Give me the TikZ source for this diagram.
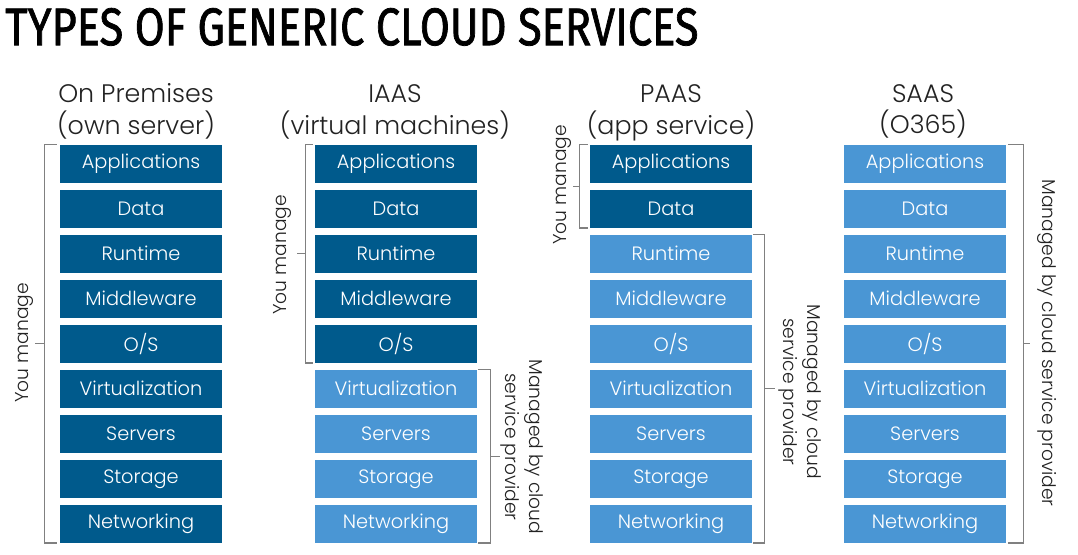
\documentclass[tikz,border=0pt]{standalone}
\usepackage{fontspec}
\usepackage{graphicx}
\setmainfont{Poppins Light}
\newfontfamily\titlefont{Fira Sans}[FakeBold=1.5]
\usetikzlibrary{calc}
\definecolor{darkbox}{RGB}{0,90,140}
\definecolor{lightbox}{RGB}{74,150,212}
\definecolor{brkgray}{RGB}{128,128,128}
\definecolor{inktext}{RGB}{34,34,34}

\tikzset{
    box/.style={fill=darkbox, text=white, minimum width=121.5pt, minimum height=28.125pt, inner sep=0pt, font=\fontsize{14.5}{17}\selectfont},
    head/.style={anchor=base, text=inktext, inner sep=0pt, font=\fontsize{19}{24}\selectfont},
    side/.style={text=inktext, align=center, inner sep=0pt, font=\fontsize{14}{18.5}\selectfont},
    brk/.style={draw=brkgray, line width=1.1pt}
}

\begin{document}
\begin{tikzpicture}[x=0.75pt, y=-0.75pt]
    \useasboundingbox (0,0) rectangle (1078,554);

    \node[anchor=south west, inner sep=0pt] (title) at (5,46) {\resizebox{519.75pt}{27.75pt}{\titlefont TYPES OF GENERIC CLOUD SERVICES}};

    \foreach \col/\cx/\k in {op/141/9, ia/396/5, pa/671/2, sa/925/0}{
        \foreach \lbl [count=\i] in {Applications,Data,Runtime,Middleware,O/S,Virtualization,Servers,Storage,Networking}{
            \ifnum\i>\k \def\fc{lightbox}\else\def\fc{darkbox}\fi
            \node[box, fill=\fc] (\col-\i) at (\cx,{163.75+45*(\i-1)}) {\lbl};}}

    \node[head] (op-h1) at (136,102) {On Premises};
    \node[head] (op-h2) at (136,134) {(own server)};
    \node[head] (ia-h1) at (395,102) {IAAS};
    \node[head] (ia-h2) at (395,134) {(virtual machines)};
    \node[head] (pa-h1) at (671,102) {PAAS};
    \node[head] (pa-h2) at (671,134) {(app service)};
    \node[head] (sa-h1) at (923,102) {SAAS};
    \node[head] (sa-h2) at (923,133) {(O365)};

    % you manage
    \coordinate (op-bt) at ([xshift=-11.25pt]op-1.north west);
    \coordinate (op-bb) at ([xshift=-11.25pt]op-9.south west);
    \draw[brk] ([xshift=-2.25pt]op-1.north west) -- (op-bt) -- (op-bb) -- ([xshift=-2.25pt]op-9.south west);
    \draw[brk] ($(op-bt)!0.5!(op-bb)$) -- ++(-10,0);
    \node[side, rotate=90] (op-you) at (24,343) {You manage};

    \coordinate (ia-bt) at ([xshift=-6.75pt]ia-1.north west);
    \coordinate (ia-bb) at ([xshift=-6.75pt]ia-5.south west);
    \draw[brk] ([xshift=-1.5pt]ia-1.north west) -- (ia-bt) -- (ia-bb) -- ([xshift=-1.5pt]ia-5.south west);
    \draw[brk] ($(ia-bt)!0.5!(ia-bb)$) -- ++(-9,0);
    \node[side, rotate=90] (ia-you) at (282,255) {You manage};

    \coordinate (pa-bt) at ([xshift=-7.5pt]pa-1.north west);
    \coordinate (pa-bb) at ([xshift=-7.5pt]pa-2.south west);
    \draw[brk] ([xshift=-1.5pt]pa-1.north west) -- (pa-bt) -- (pa-bb) -- ([xshift=-1.5pt]pa-2.south west);
    \draw[brk] ($(pa-bt)!0.5!(pa-bb)$) -- ++(-7,0);
    \node[side, rotate=90] (pa-you) at (562,185) {You manage};

    % managed by provider
    \coordinate (ia-pt) at ([xshift=9.75pt]ia-6.north east);
    \coordinate (ia-pb) at ([xshift=9.75pt]ia-9.south east);
    \draw[brk] ([xshift=0.75pt]ia-6.north east) -- (ia-pt) -- (ia-pb) -- ([xshift=0.75pt]ia-9.south east);
    \draw[brk] ($(ia-pt)!0.5!(ia-pb)$) -- ++(10,0);
    \node[side, rotate=-90] (ia-prov) at (522,447) {Managed by cloud\\service provider};

    \coordinate (pa-pt) at ([xshift=9pt]pa-3.north east);
    \coordinate (pa-pb) at ([xshift=9pt]pa-9.south east);
    \draw[brk] ([xshift=0.75pt]pa-3.north east) -- (pa-pt) -- (pa-pb) -- ([xshift=0.75pt]pa-9.south east);
    \draw[brk] ($(pa-pt)!0.5!(pa-pb)$) -- ++(11,0);
    \node[side, rotate=-90] (pa-prov) at (800,392) {Managed by cloud\\service provider};

    \coordinate (sa-pt) at ([xshift=12.75pt]sa-1.north east);
    \coordinate (sa-pb) at ([xshift=12.75pt]sa-9.south east);
    \draw[brk] ([xshift=1.5pt]sa-1.north east) -- (sa-pt) -- (sa-pb) -- ([xshift=1.5pt]sa-9.south east);
    \draw[brk] ($(sa-pt)!0.5!(sa-pb)$) -- ++(7,0);
    \node[side, rotate=-90] (sa-prov) at (1047,343) {Managed by cloud service provider};

\end{tikzpicture}
\end{document}
